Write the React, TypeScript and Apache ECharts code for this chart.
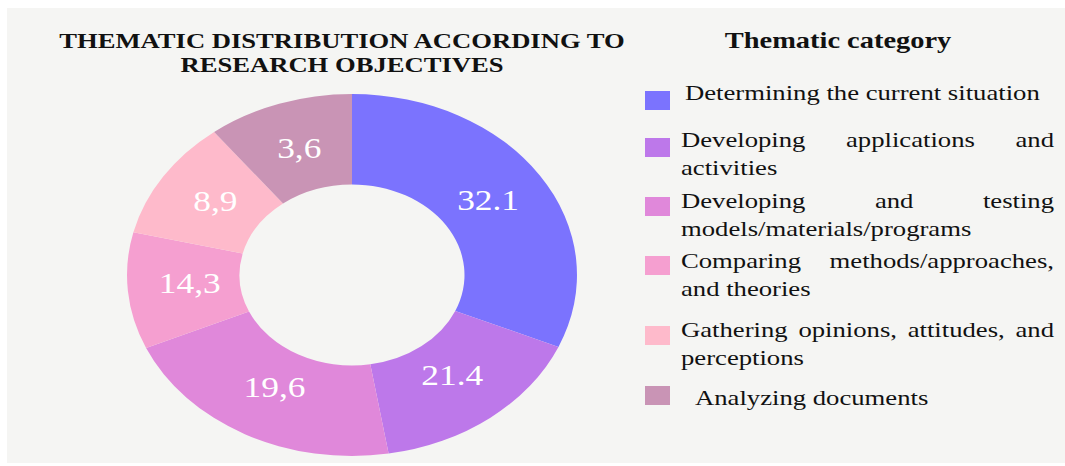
import React, { useEffect, useRef } from "react";
import * as echarts from "echarts";

// ---- data ----
const categories = [
  "Determining the current situation",
  "Developing applications and activities",
  "Developing and testing models/materials/programs",
  "Comparing methods/approaches, and theories",
  "Gathering opinions, attitudes, and perceptions",
  "Analyzing documents",
];
// angular share of each ring slice as drawn in the picture (%)
const sliceShares = [31.5, 15.9, 21.0, 10.4, 10.7, 10.5];
// printed labels on the slices
const valueLabels = ["32.1", "21.4", "19,6", "14,3", "8,9", "3,6"];
const colors = ["#7B73FE", "#BD78EA", "#E088DA", "#F59FD0", "#FEBACB", "#C994B5"];
const titleLines = ["THEMATIC DISTRIBUTION ACCORDING TO", "RESEARCH OBJECTIVES"];
const legendTitle = "Thematic category";

// ---- layout ----
const FONT = '"Liberation Serif", "Times New Roman", serif';
const CX = 352;
const CY = 275;
const R_OUT = 181;
const R_IN = 90.5;
const R_LABEL = 131;
const STRETCH = 1.243;
const legendRows = [
  { top: 91, textX: 685, base: 100 },
  { top: 138, textX: 681, base: 147 },
  { top: 197, textX: 681, base: 208 },
  { top: 256, textX: 681, base: 268 },
  { top: 326, textX: 681, base: 337 },
  { top: 386, textX: 695, base: 405 },
];
const LEG_FS = 21;
const LEG_SX = 1.27;
const LEG_RIGHT = 1054;
const LEG_LH = 28;

function measurer(font: string) {
  const c = document.createElement("canvas");
  const ctx = c.getContext("2d")!;
  ctx.font = font;
  return (s: string) => ctx.measureText(s).width;
}

function textEl(text: string, x: number, y: number, opts: any) {
  const align = opts.align || "left";
  return {
    type: "text",
    x,
    y,
    scaleX: opts.scaleX || 1,
    z: 10,
    silent: true,
    style: {
      text,
      fill: opts.fill || "#111",
      fontSize: opts.fontSize,
      fontFamily: FONT,
      fontWeight: opts.fontWeight || "normal",
      align,
      textAlign: align,
      verticalAlign: "middle",
      textVerticalAlign: "middle",
    },
  };
}

export default function App() {
  const ref = useRef<HTMLDivElement>(null);
  useEffect(() => {
    if (!ref.current) return;
    const chart = echarts.init(ref.current, undefined, { renderer: "svg" });
    const total = sliceShares.reduce((a, b) => a + b, 0);
    const starts: number[] = [];
    let acc = 0;
    sliceShares.forEach((v) => {
      starts.push(acc);
      acc += v;
    });

    const graphics: any[] = [];
    graphics.push({
      type: "rect",
      shape: { x: 7, y: 8, width: 1058, height: 455 },
      style: { fill: "#F5F5F3" },
      z: -10,
      silent: true,
    });
    // titles
    const mid = (b: number, fs: number) => b - fs * 0.34;
    graphics.push(textEl(titleLines[0], 342, mid(48, 22), { fontSize: 22, fontWeight: "bold", scaleX: 1.21, align: "center" }));
    graphics.push(textEl(titleLines[1], 342, mid(72, 22), { fontSize: 22, fontWeight: "bold", scaleX: 1.21, align: "center" }));
    graphics.push(textEl(legendTitle, 838, mid(48, 24), { fontSize: 24, fontWeight: "bold", scaleX: 1.185, align: "center" }));

    // legend (justified like the source)
    const meas = measurer(`${LEG_FS}px "Liberation Serif"`);
    categories.forEach((name, i) => {
      const row = legendRows[i];
      graphics.push({
        type: "rect",
        shape: { x: 645, y: row.top, width: 25, height: 19 },
        style: { fill: colors[i] },
        z: 10,
        silent: true,
      });
      const maxW = LEG_RIGHT - row.textX;
      const words = name.split(" ");
      const lines: string[][] = [];
      let cur: string[] = [];
      words.forEach((w) => {
        const trial = [...cur, w].join(" ");
        if (cur.length && meas(trial) * LEG_SX > maxW) {
          lines.push(cur);
          cur = [w];
        } else cur.push(w);
      });
      if (cur.length) lines.push(cur);
      lines.forEach((lw, li) => {
        const y = mid(row.base + li * LEG_LH, LEG_FS);
        const justify = li < lines.length - 1 && lw.length > 1;
        if (!justify) {
          graphics.push(textEl(lw.join(" "), row.textX, y, { fontSize: LEG_FS, scaleX: LEG_SX }));
        } else {
          const widths = lw.map((w) => meas(w) * LEG_SX);
          const sum = widths.reduce((a, b) => a + b, 0);
          const gap = (maxW - sum) / (lw.length - 1);
          let x = row.textX;
          lw.forEach((w, wi) => {
            graphics.push(textEl(w, x, y, { fontSize: LEG_FS, scaleX: LEG_SX }));
            x += widths[wi] + gap;
          });
        }
      });
    });

    chart.setOption({
      animation: false,
      backgroundColor: "#ffffff",
      graphic: { elements: graphics },
      series: [
        {
          type: "custom",
          coordinateSystem: "none",
          silent: true,
          data: sliceShares.map((v, i) => ({ value: v, name: categories[i] })),
          renderItem: (params: any, api: any) => {
            const i = params.dataIndex;
            const v = api.value(0);
            const a0 = -Math.PI / 2 + (starts[i] / total) * Math.PI * 2;
            const a1 = a0 + (v / total) * Math.PI * 2;
            const am = (a0 + a1) / 2;
            return {
              type: "group",
              children: [
                {
                  type: "group",
                  x: CX,
                  y: CY,
                  scaleX: STRETCH,
                  children: [
                    {
                      type: "sector",
                      shape: { cx: 0, cy: 0, r: R_OUT, r0: R_IN, startAngle: a0, endAngle: a1, clockwise: true },
                      style: { fill: colors[i] },
                    },
                  ],
                },
                {
                  type: "text",
                  x: CX + Math.cos(am) * R_LABEL * STRETCH,
                  y: CY + Math.sin(am) * R_LABEL - 3,
                  scaleX: 1.22,
                  style: {
                    text: valueLabels[i],
                    fill: "#ffffff",
                    fontSize: 29,
                    fontFamily: FONT,
                    align: "center",
                    textAlign: "center",
                    verticalAlign: "middle",
                    textVerticalAlign: "middle",
                  },
                },
              ],
            };
          },
        },
      ],
    });
    return () => chart.dispose();
  }, []);
  return <div ref={ref} style={{ position: "absolute", left: 0, top: 0, width: 1065, height: 466 }} />;
}
